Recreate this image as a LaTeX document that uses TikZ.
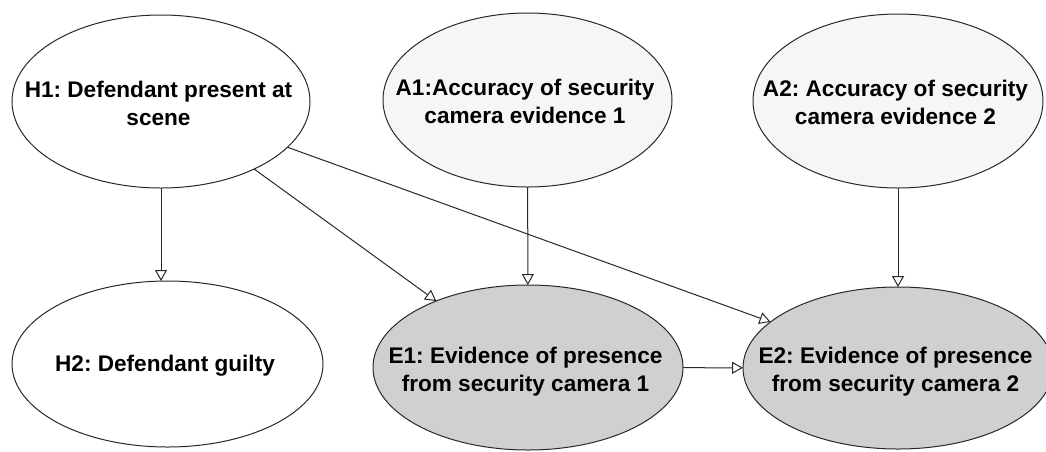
\documentclass[tikz,border=0pt]{standalone}
\usepackage{fontspec}
\setmainfont{Liberation Sans}
\usetikzlibrary{shapes.geometric,arrows.meta}
\definecolor{efill}{RGB}{208,208,208}
\definecolor{afill}{RGB}{246,246,246}
\definecolor{ink}{RGB}{40,40,40}
\newcommand{\nlbl}[2][23.5pt]{\makebox[0pt]{\raisebox{-#1}[0pt][0pt]{\begin{tabular}[b]{@{}c@{}}#2\end{tabular}}\hspace{5pt}}}
\frenchspacing
\begin{document}
\begin{tikzpicture}[x=1pt,y=-1pt,
  ell/.style={draw=ink, line width=1pt, ellipse, inner sep=0pt, outer sep=0pt,
    font=\fontsize{22.6}{28}\selectfont\bfseries\frenchspacing},
  arr/.style={draw=ink, line width=1pt, -{Triangle[length=11pt,width=12pt,fill=white]}}]
\useasboundingbox (0,0) rectangle (1046,451);
\node[ell, fill=white, minimum width=298pt, minimum height=173pt] (H1) at (161,101.5)
  {\nlbl{H1: Defendant present at\\scene}};
\node[ell, fill=afill, minimum width=289pt, minimum height=174pt] (A1) at (527.5,100)
  {\nlbl{A1:Accuracy of security\\camera evidence 1}};
\node[ell, fill=afill, minimum width=290pt, minimum height=174pt] (A2) at (898,101)
  {\nlbl{A2: Accuracy of security\\camera evidence 2}};
\node[ell, fill=white, minimum width=311pt, minimum height=166pt] (H2) at (167.5,364)
  {\nlbl[7.7pt]{H2: Defendant guilty}};
\node[ell, fill=efill, minimum width=310pt, minimum height=165pt] (E1) at (528,367.5)
  {\nlbl{E1: Evidence of presence\\from security camera 1}};
\node[ell, fill=efill, minimum width=310pt, minimum height=162pt] (E2) at (898,368)
  {\nlbl{E2: Evidence of presence\\from security camera 2}};
\draw[arr] (H1.south) -- (H1.south |- H2.north);
\draw[arr] (H1) -- (E1);
\draw[arr] (H1) -- (E2);
\draw[arr] (A1) -- (E1);
\draw[arr] (A2) -- (E2);
\draw[arr] (E1) -- (E2);
\end{tikzpicture}
\end{document}
